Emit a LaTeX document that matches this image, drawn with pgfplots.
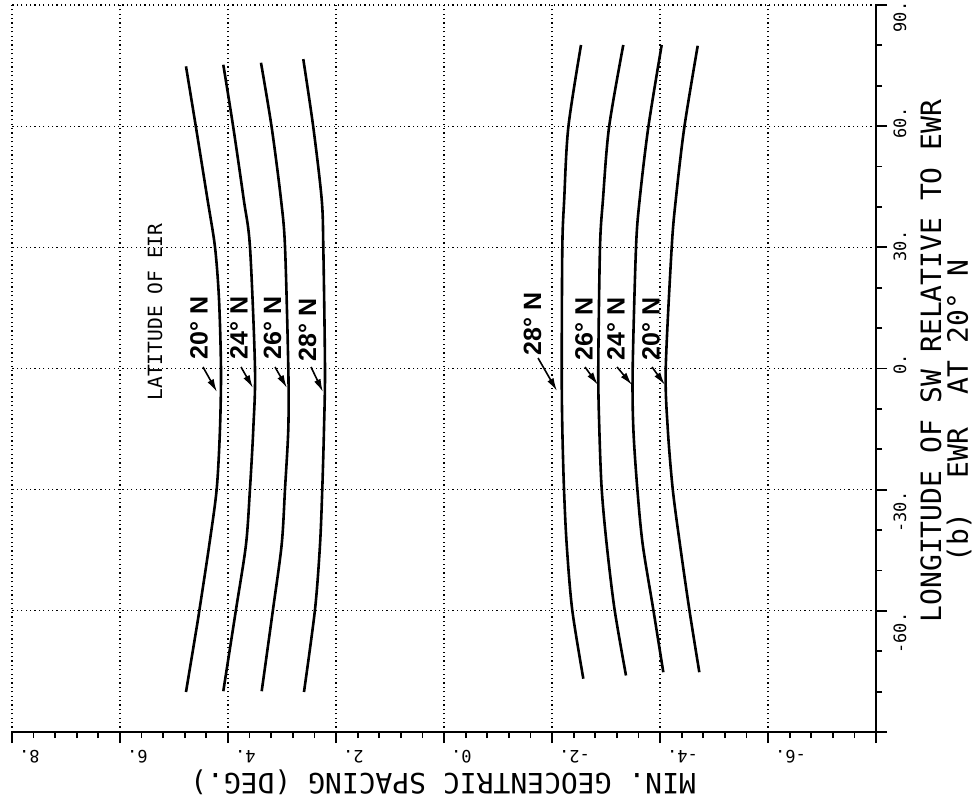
\documentclass[border=0pt]{standalone}
\usepackage{pgfplots}
\pgfplotsset{compat=1.18}
\usepackage{fontspec}
\setmainfont{DejaVu Sans Mono}
\setmonofont{DejaVu Sans Mono}
\newfontfamily\curvefont{Liberation Sans}
\usetikzlibrary{arrows.meta}

\begin{document}
\begin{tikzpicture}[x=0.5pt,y=0.5pt]
\useasboundingbox (0,0) rectangle (973,800);
\begin{axis}[
  at={(6pt,34pt)}, anchor=south west,
  scale only axis, width=432pt, height=363.5pt,
  x dir=reverse,
  xmin=-8, xmax=8, ymin=-90, ymax=90,
  axis x line*=bottom, axis y line*=right,
  every outer x axis line/.append style={-},
  every outer y axis line/.append style={-},
  axis line style={-, line width=1pt, black},
  xtick={-8,-6,...,8},
  xticklabels={,-6.,-4.,-2.,0.,2.,4.,6.,8.},
  minor x tick num=4,
  ytick={-90,-60,...,90},
  yticklabels={},
  minor y tick num=2,
  tick align=outside,
  major tick length=5.5pt, minor tick length=3pt,
  tick style={line width=0.9pt, black},
  grid=major,
  major grid style={black, line width=0.6pt, dash pattern=on 0.6pt off 1.6pt},
  xticklabel style={font=\fontsize{8.5}{10}\selectfont, rotate=180, anchor=south east},
  clip=false,
]
% latitude 20 N (left group)
\addplot[black, line width=1.3pt, smooth] coordinates {
 (4.778,74.8) (4.593,59.7) (4.380,41.9) (4.241,30.1) (4.167,17.3) (4.130,0)
 (4.148,-14.8) (4.209,-29.8) (4.346,-43.6) (4.528,-59.7) (4.580,-64.1) (4.778,-80.1)};
% latitude 24 N
\addplot[black, line width=1.3pt, smooth] coordinates {
 (4.087,75.2) (3.902,59.7) (3.709,41.9) (3.593,30.1) (3.500,0)
 (3.531,-14.8) (3.593,-29.8) (3.667,-43.6) (3.852,-59.7) (4.087,-79.9)};
% latitude 26 N
\addplot[black, line width=1.3pt, smooth] coordinates {
 (3.389,75.7) (3.191,59.7) (3.019,41.9) (2.944,30.1) (2.883,0)
 (2.883,-14.8) (2.944,-29.8) (3.006,-43.6) (3.167,-59.7) (3.376,-79.9)};
% latitude 28 N
\addplot[black, line width=1.3pt, smooth] coordinates {
 (2.606,76.6) (2.420,59.7) (2.265,41.9) (2.235,30.1) (2.204,0)
 (2.222,-14.8) (2.254,-29.8) (2.296,-43.6) (2.389,-59.7) (2.593,-80.1)};
% right group
\addplot[black, line width=1.3pt, smooth] coordinates {
 (-2.537,80.1) (-2.302,59.7) (-2.226,41.9) (-2.191,30.1) (-2.180,0)
 (-2.191,-14.8) (-2.222,-29.8) (-2.272,-43.6) (-2.374,-59.7) (-2.580,-76.8)};
\addplot[black, line width=1.3pt, smooth] coordinates {
 (-3.320,80.1) (-3.056,59.7) (-2.944,41.9) (-2.889,30.1) (-2.857,0)
 (-2.876,-14.8) (-2.920,-29.8) (-3.013,-43.6) (-3.159,-59.7) (-3.370,-76.0)};
\addplot[black, line width=1.3pt, smooth] coordinates {
 (-4.031,80.1) (-3.783,59.7) (-3.624,41.9) (-3.556,30.1) (-3.494,0)
 (-3.506,-14.8) (-3.580,-29.8) (-3.680,-43.6) (-3.876,-59.7) (-4.061,-75.2)};
\addplot[black, line width=1.3pt, smooth] coordinates {
 (-4.698,79.9) (-4.450,59.7) (-4.293,41.9) (-4.217,30.1) (-4.106,0)
 (-4.143,-14.8) (-4.235,-29.8) (-4.370,-43.6) (-4.543,-59.7) (-4.728,-75.2)};
\end{axis}

% longitude tick labels, set beside the right-hand axis as the plotter placed them
\begin{scope}[font=\fontsize{8.5}{10}\selectfont]
\node[rotate=90] at (900,783) {90.};
\node[rotate=90] at (900,677) {60.};
\node[rotate=90] at (900,554) {30.};
\node[rotate=90] at (900,436) {0.};
\node[rotate=90] at (900,288) {-30.};
\node[rotate=90] at (900,167) {-60.};
\end{scope}

% axis titles
\node[rotate=180, font=\fontsize{14}{16}\selectfont] at (443,18) {MIN. GEOCENTRIC SPACING (DEG.)};
\node[rotate=90, font=\fontsize{14}{16}\selectfont] at (931,439) {LONGITUDE OF SW RELATIVE TO EWR};
\node[rotate=90, font=\fontsize{14}{16}\selectfont] at (959,389) {(b)~~EWR~~AT~20°~N};
\node[rotate=90, font=\fontsize{9.8}{12}\selectfont] at (155,488) {LATITUDE OF EIR};

% curve labels with arrows
\begin{scope}[font=\curvefont\bfseries\fontsize{12.5}{14}\selectfont]
\node[rotate=90] at (199,472) {20° N};
\node[rotate=90] at (239,472) {24° N};
\node[rotate=90] at (272.5,472) {26° N};
\node[rotate=90] at (307.5,470) {28° N};
\node[rotate=90] at (532.5,476) {28° N};
\node[rotate=90] at (584,471) {26° N};
\node[rotate=90] at (616,471) {24° N};
\node[rotate=90] at (651,471) {20° N};
\end{scope}
\begin{scope}[line width=0.8pt, -{Latex[length=6.5pt,width=3.5pt]}]
\draw (203,433) -- (217,408);
\draw (241,433) -- (253,412);
\draw (275,433) -- (287,412);
\draw (311,433) -- (323,408);
\draw (538,442) -- (557,409);
\draw (585,433) -- (598,415);
\draw (617,433) -- (632,415);
\draw (652,433) -- (665,415);
\end{scope}
\end{tikzpicture}
\end{document}
